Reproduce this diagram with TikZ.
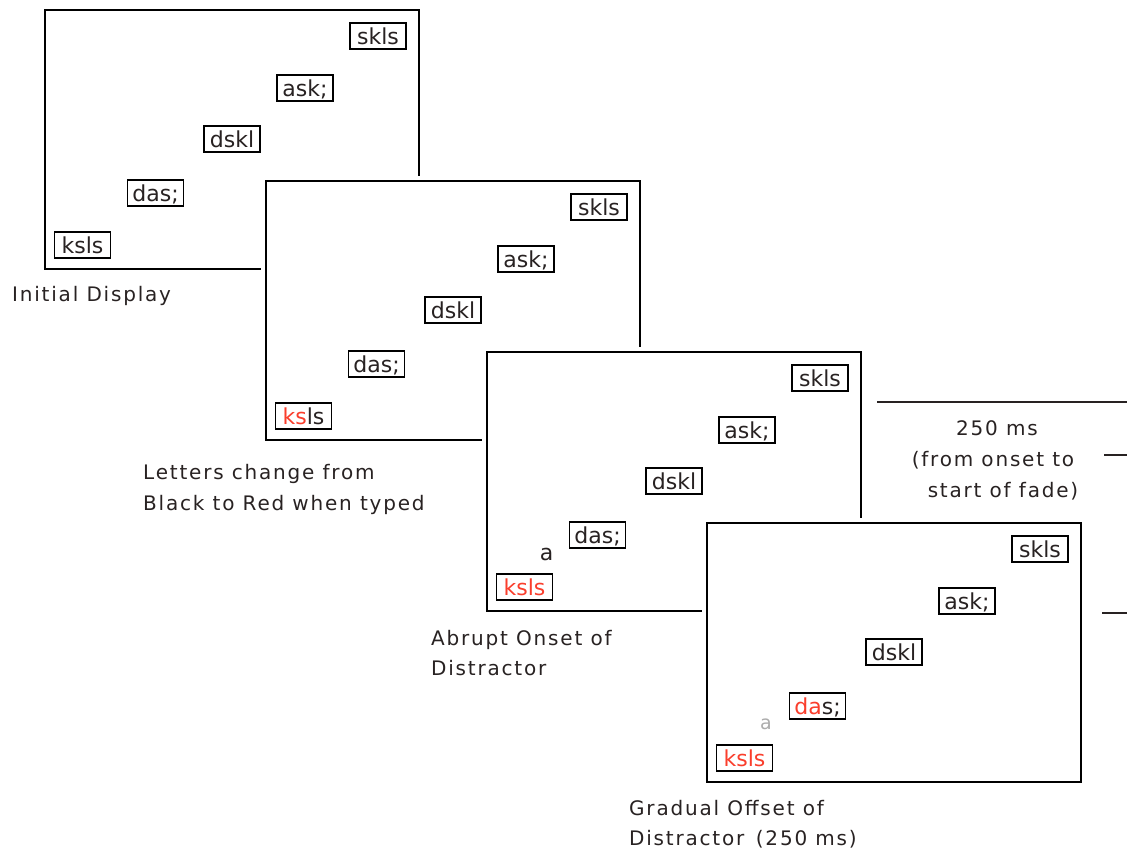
\documentclass[tikz,border=0pt]{standalone}
\usepackage{fontspec}
\setmainfont{DejaVu Sans}
\newfontfamily\capfont{DejaVu Sans}[LetterSpace=9]
\definecolor{typed}{RGB}{250,62,44}
\definecolor{ink}{RGB}{40,34,34}
\newcommand\mkpanel[5]{%
  \begin{scope}[shift={(#2,#3)}]
    \fill[white] (-5,-5) rectangle (379,264);
    \node[panelbox] (#1) at (0,0) {};
    \node[word] (#1skls) at (333,26) {skls};
    \node[word] (#1ask) at (260,78) {ask;};
    \node[word] (#1dskl) at (187,129) {dskl};
    \node[word] (#1das) at (110.5,183) {#5};
    \node[word] (#1ksls) at (37.5,235) {#4};
  \end{scope}}
\begin{document}
\begin{tikzpicture}[x=1pt,y=-1pt,
  panelbox/.style={draw=black,line width=2pt,fill=white,anchor=north west,
    minimum width=374pt,minimum height=259pt,inner sep=0pt,outer sep=0pt},
  word/.style={draw=black,line width=1.8pt,fill=white,minimum width=56pt,
    minimum height=26pt,inner sep=0pt,text height=17pt,text depth=0pt,
    font=\fontsize{22}{24}\selectfont,text=ink},
  captext/.style={anchor=base west,inner sep=0pt,font=\capfont\fontsize{20}{24}\selectfont,text=ink},
  rule/.style={line width=1.8pt,draw=ink}]
\useasboundingbox (0,0) rectangle (1127,853);

\mkpanel{pa}{45}{10}{ksls}{das;}
\mkpanel{pb}{266}{181}{\textcolor{typed}{ks}ls}{das;}
\mkpanel{pc}{487}{352}{\textcolor{typed}{ksls}}{das;}
\node[anchor=base,inner sep=0pt,font=\fontsize{22}{24}\selectfont,text=ink] (dista) at (546.5,560) {a};
\mkpanel{pd}{707}{523}{\textcolor{typed}{ksls}}{\textcolor{typed}{da}s;}
\node[anchor=base,inner sep=0pt,font=\fontsize{19}{24}\selectfont,text=gray!65] (distb) at (766,729) {a};

\node[captext] (c1) at (12,301) {Initial Display};
\node[captext] (c2a) at (143,479) {Letters change from};
\node[captext] (c2b) at (143,510) {Black to Red when typed};
\node[captext] (c3a) at (431,645) {Abrupt Onset of};
\node[captext] (c3b) at (431,675) {Distractor};
\node[captext] (c4a) at (629,815) {Gradual Offset of};
\node[captext] (c4b) at (629,845) {Distractor\, (250 ms)};

\node[captext,anchor=base] (t1) at (997,435) {250 ms};
\node[captext,anchor=base] (t2) at (993,466) {(from onset to};
\node[captext,anchor=base] (t3) at (1003,497) {start of fade)};

\coordinate (r1a) at (877,402); \coordinate (r1b) at (1127,402);
\coordinate (r2a) at (1104,455); \coordinate (r2b) at (1127,455);
\coordinate (r3a) at (1102,613); \coordinate (r3b) at (1127,613);
\draw[rule] (r1a) -- (r1b);
\draw[rule] (r2a) -- (r2b);
\draw[rule] (r3a) -- (r3b);
\end{tikzpicture}
\end{document}
